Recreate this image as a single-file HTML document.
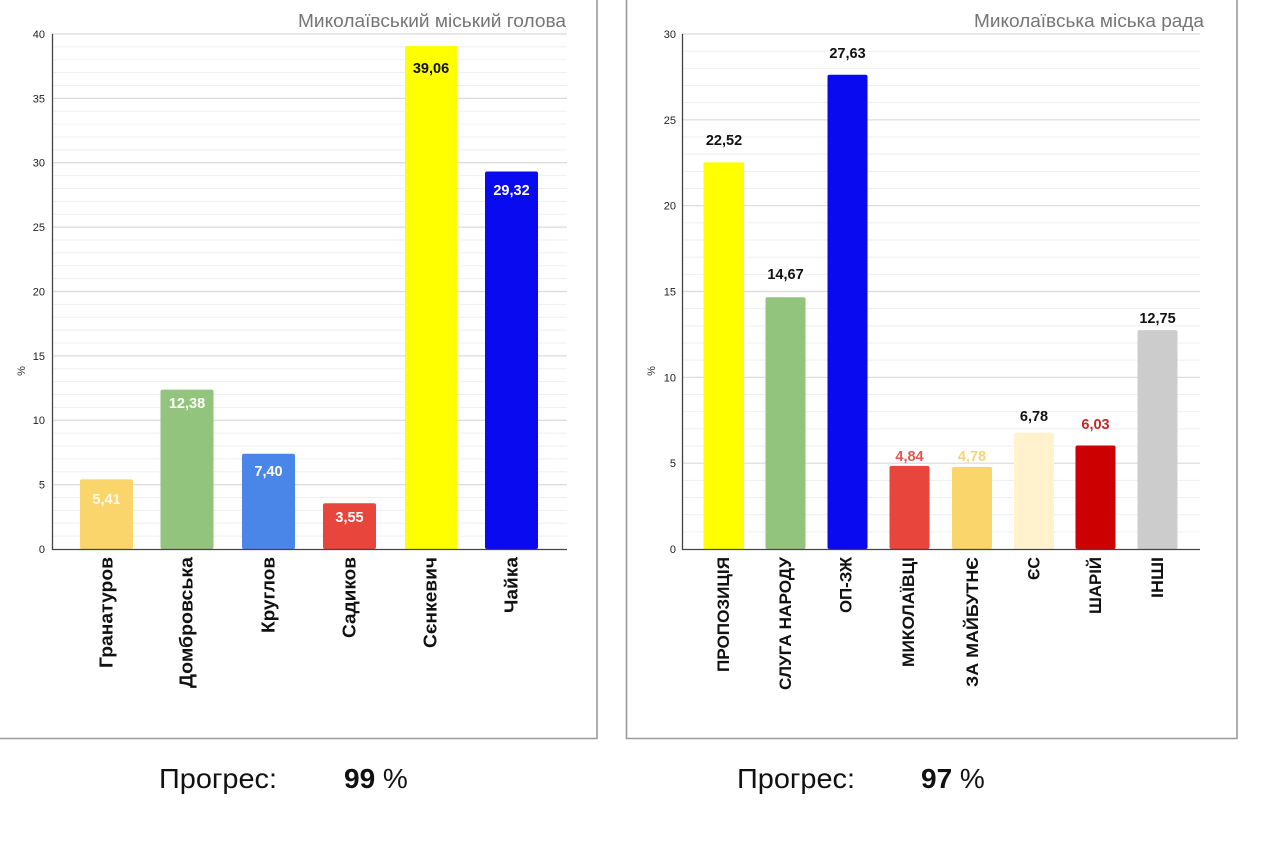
<!DOCTYPE html>
<html>
<head>
<meta charset="utf-8">
<style>
html,body{margin:0;padding:0;background:#fff;}
body{width:1280px;height:843px;overflow:hidden;}
svg{display:block;}
text{font-family:"Liberation Sans","DejaVu Sans",sans-serif;}
</style>
</head>
<body>
<svg width="1280" height="843" viewBox="0 0 1280 843" xmlns="http://www.w3.org/2000/svg">
<rect x="0" y="0" width="1280" height="843" fill="#fff"/>

<!-- panel borders -->
<path d="M597 0V738.5H-2" fill="none" stroke="#9a9a9a" stroke-width="1.6"/>
<path d="M626.5 0V738.5H1237V0" fill="none" stroke="#9a9a9a" stroke-width="1.6"/>

<!-- ================= LEFT CHART ================= -->
<text x="566" y="27" text-anchor="end" font-size="18" fill="#757575" textLength="268" lengthAdjust="spacingAndGlyphs">Миколаївський міський голова</text>

<!-- minor grid -->
<path fill="none" stroke="#efefef" stroke-width="1" d="M52 536.125H567M52 523.25H567M52 510.375H567M52 497.5H567M52 471.75H567M52 458.875H567M52 446H567M52 433.125H567M52 407.375H567M52 394.5H567M52 381.625H567M52 368.75H567M52 343H567M52 330.125H567M52 317.25H567M52 304.375H567M52 278.625H567M52 265.75H567M52 252.875H567M52 240H567M52 214.25H567M52 201.375H567M52 188.5H567M52 175.625H567M52 149.875H567M52 137H567M52 124.125H567M52 111.25H567M52 85.5H567M52 72.625H567M52 59.75H567M52 46.875H567"/>
<!-- major grid -->
<path fill="none" stroke="#dadada" stroke-width="1.2" d="M52 484.625H567M52 420.25H567M52 355.875H567M52 291.5H567M52 227.125H567M52 162.75H567M52 98.375H567M52 34H567"/>

<!-- y tick labels -->
<g font-size="11" fill="#222" text-anchor="end">
<text x="45" y="553">0</text>
<text x="45" y="488.6">5</text>
<text x="45" y="424.2">10</text>
<text x="45" y="359.9">15</text>
<text x="45" y="295.5">20</text>
<text x="45" y="231.1">25</text>
<text x="45" y="166.7">30</text>
<text x="45" y="102.4">35</text>
<text x="45" y="38">40</text>
</g>
<text transform="translate(25,371) rotate(-90)" font-size="11" fill="#333" text-anchor="middle">%</text>

<!-- bars -->
<rect x="80" y="479.35" width="53" height="69.65" rx="2" fill="#f9d56c"/>
<rect x="160.5" y="389.6" width="53" height="159.4" rx="2" fill="#93c47d"/>
<rect x="242" y="453.7" width="53" height="95.3" rx="2" fill="#4a86e8"/>
<rect x="323" y="503.3" width="53" height="45.7" rx="2" fill="#e8453c"/>
<rect x="405" y="46.1" width="52.5" height="502.9" rx="1" fill="#ffff00"/>
<rect x="485" y="171.5" width="53" height="377.5" rx="2" fill="#0a0af0"/>

<!-- axes -->
<path d="M52.5 34V549.5H567" fill="none" stroke="#444" stroke-width="1.3"/>

<!-- value labels -->
<g font-size="14.5" font-weight="bold" text-anchor="middle">
<text x="106.5" y="504" fill="#fff" fill-opacity="0.85">5,41</text>
<text x="187" y="408" fill="#fff">12,38</text>
<text x="268.5" y="476" fill="#fff">7,40</text>
<text x="349.5" y="522" fill="#fff">3,55</text>
<text x="431" y="73" fill="#111">39,06</text>
<text x="511.5" y="195" fill="#fff">29,32</text>
</g>

<!-- x labels -->
<g font-size="18" font-weight="bold" fill="#111" text-anchor="end">
<text transform="translate(112.5,557) rotate(-90)" textLength="111" lengthAdjust="spacingAndGlyphs">Гранатуров</text>
<text transform="translate(192.5,557) rotate(-90)" textLength="131" lengthAdjust="spacingAndGlyphs">Домбровська</text>
<text transform="translate(274.5,557) rotate(-90)" textLength="76" lengthAdjust="spacingAndGlyphs">Круглов</text>
<text transform="translate(355.5,557) rotate(-90)" textLength="81" lengthAdjust="spacingAndGlyphs">Садиков</text>
<text transform="translate(436.5,557) rotate(-90)" textLength="91" lengthAdjust="spacingAndGlyphs">Сєнкевич</text>
<text transform="translate(517.5,557) rotate(-90)" textLength="56" lengthAdjust="spacingAndGlyphs">Чайка</text>
</g>

<!-- ================= RIGHT CHART ================= -->
<text x="1204" y="27" text-anchor="end" font-size="18" fill="#757575" textLength="230" lengthAdjust="spacingAndGlyphs">Миколаївська міська рада</text>

<path fill="none" stroke="#efefef" stroke-width="1" d="M682 531.83H1200M682 514.67H1200M682 497.5H1200M682 480.33H1200M682 446H1200M682 428.83H1200M682 411.67H1200M682 394.5H1200M682 360.17H1200M682 343H1200M682 325.83H1200M682 308.67H1200M682 274.33H1200M682 257.17H1200M682 240H1200M682 222.83H1200M682 188.5H1200M682 171.33H1200M682 154.17H1200M682 137H1200M682 102.67H1200M682 85.5H1200M682 68.33H1200M682 51.17H1200"/>
<path fill="none" stroke="#dadada" stroke-width="1.2" d="M682 463.17H1200M682 377.33H1200M682 291.5H1200M682 205.67H1200M682 119.83H1200M682 34H1200"/>

<g font-size="11" fill="#222" text-anchor="end">
<text x="676" y="553">0</text>
<text x="676" y="467.2">5</text>
<text x="676" y="381.3">10</text>
<text x="676" y="295.5">15</text>
<text x="676" y="209.7">20</text>
<text x="676" y="123.8">25</text>
<text x="676" y="38">30</text>
</g>
<text transform="translate(655,371) rotate(-90)" font-size="11" fill="#333" text-anchor="middle">%</text>

<rect x="703.5" y="162.4" width="40.5" height="386.6" rx="1" fill="#ffff00"/>
<rect x="765.5" y="297.2" width="40" height="251.8" rx="2" fill="#93c47d"/>
<rect x="827.5" y="74.7" width="40" height="474.3" rx="2" fill="#0a0af0"/>
<rect x="889.5" y="465.9" width="40" height="83.1" rx="2" fill="#e8453c"/>
<rect x="952" y="466.9" width="40" height="82.1" rx="2" fill="#f9d56c"/>
<rect x="1014" y="432.6" width="40" height="116.4" rx="2" fill="#fff2cc"/>
<rect x="1075.5" y="445.5" width="40" height="103.5" rx="2" fill="#cc0000"/>
<rect x="1137.5" y="330.1" width="40" height="218.9" rx="2" fill="#cccccc"/>

<path d="M682.5 34V549.5H1200" fill="none" stroke="#444" stroke-width="1.3"/>

<g font-size="14.5" font-weight="bold" text-anchor="middle">
<text x="724" y="145" fill="#111">22,52</text>
<text x="785.5" y="279" fill="#111">14,67</text>
<text x="847.5" y="58" fill="#111">27,63</text>
<text x="909.5" y="461" fill="#e2594c">4,84</text>
<text x="972" y="461" fill="#f3d57a">4,78</text>
<text x="1034" y="421" fill="#111">6,78</text>
<text x="1095.5" y="429" fill="#c62828">6,03</text>
<text x="1157.5" y="323" fill="#111">12,75</text>
</g>

<g font-size="16.5" font-weight="bold" fill="#111" text-anchor="end">
<text transform="translate(729,557) rotate(-90)" textLength="115" lengthAdjust="spacingAndGlyphs">ПРОПОЗИЦІЯ</text>
<text transform="translate(791,557) rotate(-90)" textLength="133" lengthAdjust="spacingAndGlyphs">СЛУГА НАРОДУ</text>
<text transform="translate(851.5,557) rotate(-90)" textLength="56" lengthAdjust="spacingAndGlyphs">ОП-ЗЖ</text>
<text transform="translate(914,557) rotate(-90)" textLength="110" lengthAdjust="spacingAndGlyphs">МИКОЛАЇВЦІ</text>
<text transform="translate(978,557) rotate(-90)" textLength="130" lengthAdjust="spacingAndGlyphs">ЗА МАЙБУТНЄ</text>
<text transform="translate(1039.5,557) rotate(-90)" textLength="23" lengthAdjust="spacingAndGlyphs">ЄС</text>
<text transform="translate(1101,557) rotate(-90)" textLength="57" lengthAdjust="spacingAndGlyphs">ШАРІЙ</text>
<text transform="translate(1163,557) rotate(-90)" textLength="41" lengthAdjust="spacingAndGlyphs">ІНШІ</text>
</g>

<!-- ================= PROGRESS ================= -->
<g font-size="28" fill="#111">
<text x="159" y="788" textLength="118" lengthAdjust="spacingAndGlyphs">Прогрес:</text>
<text x="344" y="788"><tspan font-weight="bold">99</tspan> %</text>
<text x="737" y="788" textLength="118" lengthAdjust="spacingAndGlyphs">Прогрес:</text>
<text x="921" y="788"><tspan font-weight="bold">97</tspan> %</text>
</g>
</svg>
</body>
</html>
